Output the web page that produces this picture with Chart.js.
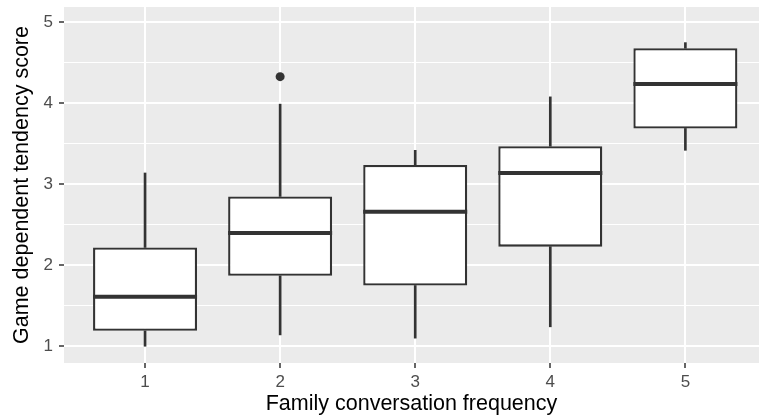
<!DOCTYPE html>
<html>
<head>
<meta charset="utf-8">
<script src="https://cdn.jsdelivr.net/npm/chart.js@4"></script>
<style>
  html, body { margin: 0; padding: 0; background: #ffffff; }
  #wrap { width: 759px; height: 418px; }
</style>
</head>
<body>
<div id="wrap"><canvas id="c" width="759" height="418"></canvas></div>
<script>
// ---- data ----
const categories   = [1, 2, 3, 4, 5];
const whiskerLow   = [1.00, 1.14, 1.10, 1.24, 3.42];
const q1           = [1.19, 1.87, 1.75, 2.23, 3.69];
const median       = [1.61, 2.40, 2.66, 3.14, 4.24];
const q3           = [2.22, 2.85, 3.24, 3.47, 4.68];
const whiskerHigh  = [3.14, 3.99, 3.42, 4.08, 4.75];
const outlierX     = [2];
const outlierY     = [4.33];
const yTickValues  = [1, 2, 3, 4, 5];

const xTitle = 'Family conversation frequency';
const yTitle = 'Game dependent tendency score';

// ---- styles ----
const INK = '#333333';
const FONT = "'Liberation Sans', Arial, sans-serif";

const panelBg = {
  id: 'panelBg',
  beforeDraw(chart) {
    const { ctx, chartArea: a } = chart;
    ctx.save();
    ctx.fillStyle = '#EBEBEB';
    ctx.fillRect(a.left, a.top, a.right - a.left, a.bottom - a.top);
    ctx.restore();
  }
};

const medianLines = {
  id: 'medianLines',
  afterDatasetsDraw(chart) {
    const meta = chart.getDatasetMeta(0);
    const ys = chart.scales.y;
    const ctx = chart.ctx;
    ctx.save();
    ctx.strokeStyle = INK;
    ctx.lineWidth = 4;
    meta.data.forEach((bar, i) => {
      const py = ys.getPixelForValue(median[i]);
      const half = bar.width / 2;
      ctx.beginPath();
      ctx.moveTo(bar.x - half, py);
      ctx.lineTo(bar.x + half, py);
      ctx.stroke();
    });
    ctx.restore();
  }
};

const boxData   = categories.map((c, i) => ({ x: c, y: [q1[i], q3[i]] }));
const lowData   = categories.map((c, i) => ({ x: c, y: [whiskerLow[i], q1[i]] }));
const highData  = categories.map((c, i) => ({ x: c, y: [q3[i], whiskerHigh[i]] }));
const outData   = outlierX.map((x, i) => ({ x: x, y: outlierY[i] }));

new Chart(document.getElementById('c'), {
  type: 'bar',
  data: {
    datasets: [
      {
        label: 'box',
        data: boxData,
        backgroundColor: '#FFFFFF',
        borderColor: INK,
        borderWidth: 2.3,
        borderSkipped: false,
        barPercentage: 0.77,
        categoryPercentage: 1,
        grouped: false,
        order: 1
      },
      {
        label: 'lower whisker',
        data: lowData,
        backgroundColor: INK,
        borderWidth: 0,
        barThickness: 2,
        grouped: false,
        order: 2
      },
      {
        label: 'upper whisker',
        data: highData,
        backgroundColor: INK,
        borderWidth: 0,
        barThickness: 2,
        grouped: false,
        order: 2
      },
      {
        type: 'scatter',
        label: 'outlier',
        data: outData,
        pointRadius: 4.5,
        pointBackgroundColor: INK,
        pointBorderColor: INK,
        pointBorderWidth: 0,
        order: 0
      }
    ]
  },
  options: {
    responsive: false,
    animation: false,
    devicePixelRatio: 1,
    layout: { autoPadding: false, padding: { top: 7, right: 0, bottom: 0, left: 0 } },
    plugins: { legend: { display: false }, tooltip: { enabled: false } },
    scales: {
      x: {
        type: 'linear',
        min: 0.4,
        max: 5.545,
        offset: false,
        afterFit(s) { s.height = 55; s.paddingLeft = 0; s.paddingRight = 0; },
        border: { display: false },
        grid: {
          offset: false,
          color: '#FFFFFF',
          lineWidth: 2,
          drawTicks: true,
          tickLength: 5,
          tickColor: INK,
          tickWidth: 1.5
        },
        ticks: {
          stepSize: 1,
          includeBounds: false,
          color: '#4D4D4D',
          padding: 4,
          font: { family: FONT, size: 17 },
          maxRotation: 0
        },
        title: {
          display: true,
          text: xTitle,
          color: '#000000',
          font: { family: FONT, size: 21.5 },
          padding: { top: 0, bottom: 1 }
        }
      },
      y: {
        type: 'linear',
        min: 0.793,
        max: 5.19,
        afterFit(s) { s.width = 64; s.paddingTop = 0; s.paddingBottom = 0; },
        border: { display: false },
        grid: {
          color: '#FFFFFF',
          lineWidth: (c) => (yTickValues.includes(c.tick && c.tick.value) ? 2 : 1),
          drawTicks: true,
          tickLength: 5,
          tickColor: (c) => (yTickValues.includes(c.tick && c.tick.value) ? INK : 'rgba(0,0,0,0)'),
          tickWidth: 1.5
        },
        ticks: {
          stepSize: 0.5,
          includeBounds: false,
          color: '#4D4D4D',
          padding: 6,
          font: { family: FONT, size: 17 },
          callback: (v) => (yTickValues.includes(v) ? String(v) : '')
        },
        title: {
          display: true,
          text: yTitle,
          color: '#000000',
          font: { family: FONT, size: 21.5 },
          padding: { top: 9, bottom: 0 }
        }
      }
    }
  },
  plugins: [panelBg, medianLines]
});
</script>
</body>
</html>
